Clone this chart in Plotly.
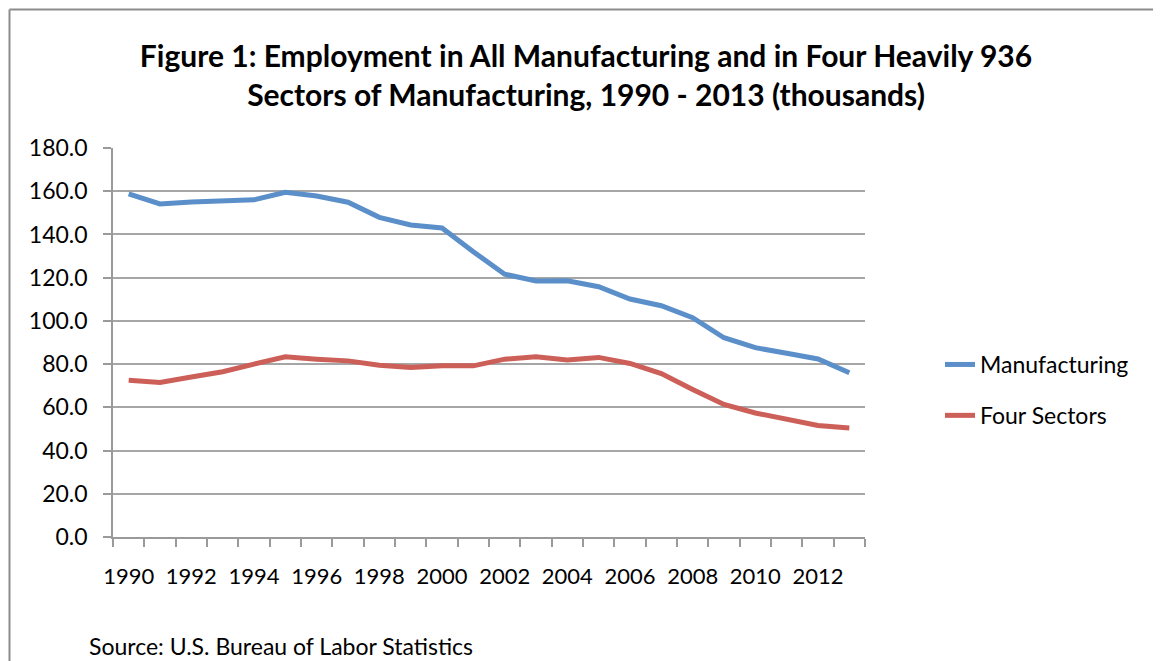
import plotly.graph_objects as go

years = list(range(1990, 2014))
manufacturing = [158.8, 154.1, 155.0, 155.5, 156.0, 159.5, 157.8, 154.9, 147.9, 144.4, 143.0,
                 132.0, 121.6, 118.5, 118.6, 115.8, 110.1, 107.0, 101.5, 92.2, 87.6, 85.0, 82.4, 76.0]
four_sectors = [72.5, 71.5, 74.0, 76.5, 80.0, 83.4, 82.3, 81.5, 79.5, 78.4, 79.2,
                79.2, 82.3, 83.4, 81.9, 83.1, 80.3, 75.6, 68.3, 61.3, 57.4, 54.3, 51.6, 50.4]
x_tick_labels = [str(y) for y in range(1990, 2013, 2)]
y_ticks = [0, 20, 40, 60, 80, 100, 120, 140, 160, 180]

# page body has an 8px margin: the figure is drawn 8px in from the window edge
OFF = 8
WIN_W, WIN_H = 1161, 661
W, H = WIN_W - OFF, WIN_H - OFF
L, T = 113 - OFF, 148 - OFF
R, B = WIN_W - 865, WIN_H - 537
pw, ph = W - L - R, H - T - B

def px_x(sx):
    return (sx - OFF - L) / pw

def px_y(sy):
    return (H - B - (sy - OFF)) / ph

FONT = "Lato"

fig = go.Figure()
fig.add_trace(go.Scatter(x=years, y=manufacturing, mode="lines", name="Manufacturing",
                         legendgroup="a", line=dict(color="#5B8FC9", width=5)))
fig.add_trace(go.Scatter(x=years, y=four_sectors, mode="lines", name="Four Sectors",
                         legendgroup="b", line=dict(color="#CD5F59", width=5)))

fig.update_layout(
    width=W, height=H,
    margin=dict(l=L, r=R, t=T, b=B, autoexpand=False),
    paper_bgcolor="white", plot_bgcolor="white",
    font=dict(family=FONT, color="black", size=23),
    title=dict(text="<b>Figure 1: Employment in All Manufacturing and in Four Heavily 936<br>Sectors of Manufacturing, 1990 - 2013 (thousands)</b>",
               x=(586 - OFF) / W, xanchor="center", y=1 - 59 / H, yanchor="top",
               font=dict(family=FONT, size=30, color="black")),
    showlegend=True,
    legend=dict(x=px_x(940), y=px_y(343), xanchor="left", yanchor="top",
                font=dict(family=FONT, size=23), tracegroupgap=18,
                itemwidth=30, bgcolor="rgba(0,0,0,0)"),
    xaxis=dict(range=[1989.5, 2013.5], tickmode="array", tickvals=list(range(1990, 2013, 2)),
               ticktext=x_tick_labels, ticks="", showgrid=False, zeroline=False,
               showline=True, linecolor="#9A9A9A", linewidth=1.5,
               tickfont=dict(family=FONT, size=22), ticklabelstandoff=19,
               minor=dict(tick0=1989.5, dtick=1, ticks="outside", ticklen=8,
                          tickcolor="#9A9A9A", tickwidth=1.5, showgrid=False)),
    yaxis=dict(range=[0, 180], tickmode="array", tickvals=y_ticks,
               ticktext=[f"{v:.1f}" for v in y_ticks], ticks="outside", ticklen=8,
               tickcolor="#9A9A9A", tickwidth=1.5, showgrid=True, gridcolor="#A6A6A6",
               gridwidth=1.5, zeroline=False, showline=True, linecolor="#9A9A9A",
               linewidth=1.5, tickfont=dict(family=FONT, size=23), ticklabelstandoff=11),
)

# outer chart-area border (left and top edges visible in the reference)
fig.add_shape(type="line", xref="paper", yref="paper",
              x0=px_x(9.5), x1=px_x(1175), y0=px_y(9.5), y1=px_y(9.5),
              line=dict(color="#8C8C8C", width=2))
fig.add_shape(type="line", xref="paper", yref="paper",
              x0=px_x(9.5), x1=px_x(9.5), y0=px_y(9.5), y1=px_y(680),
              line=dict(color="#8C8C8C", width=2))

fig.add_annotation(text="Source: U.S. Bureau of Labor Statistics", xref="paper", yref="paper",
                   x=px_x(87), y=px_y(646), xanchor="left", yanchor="middle", showarrow=False,
                   font=dict(family=FONT, size=23, color="black"))

fig.write_html("out.html")
